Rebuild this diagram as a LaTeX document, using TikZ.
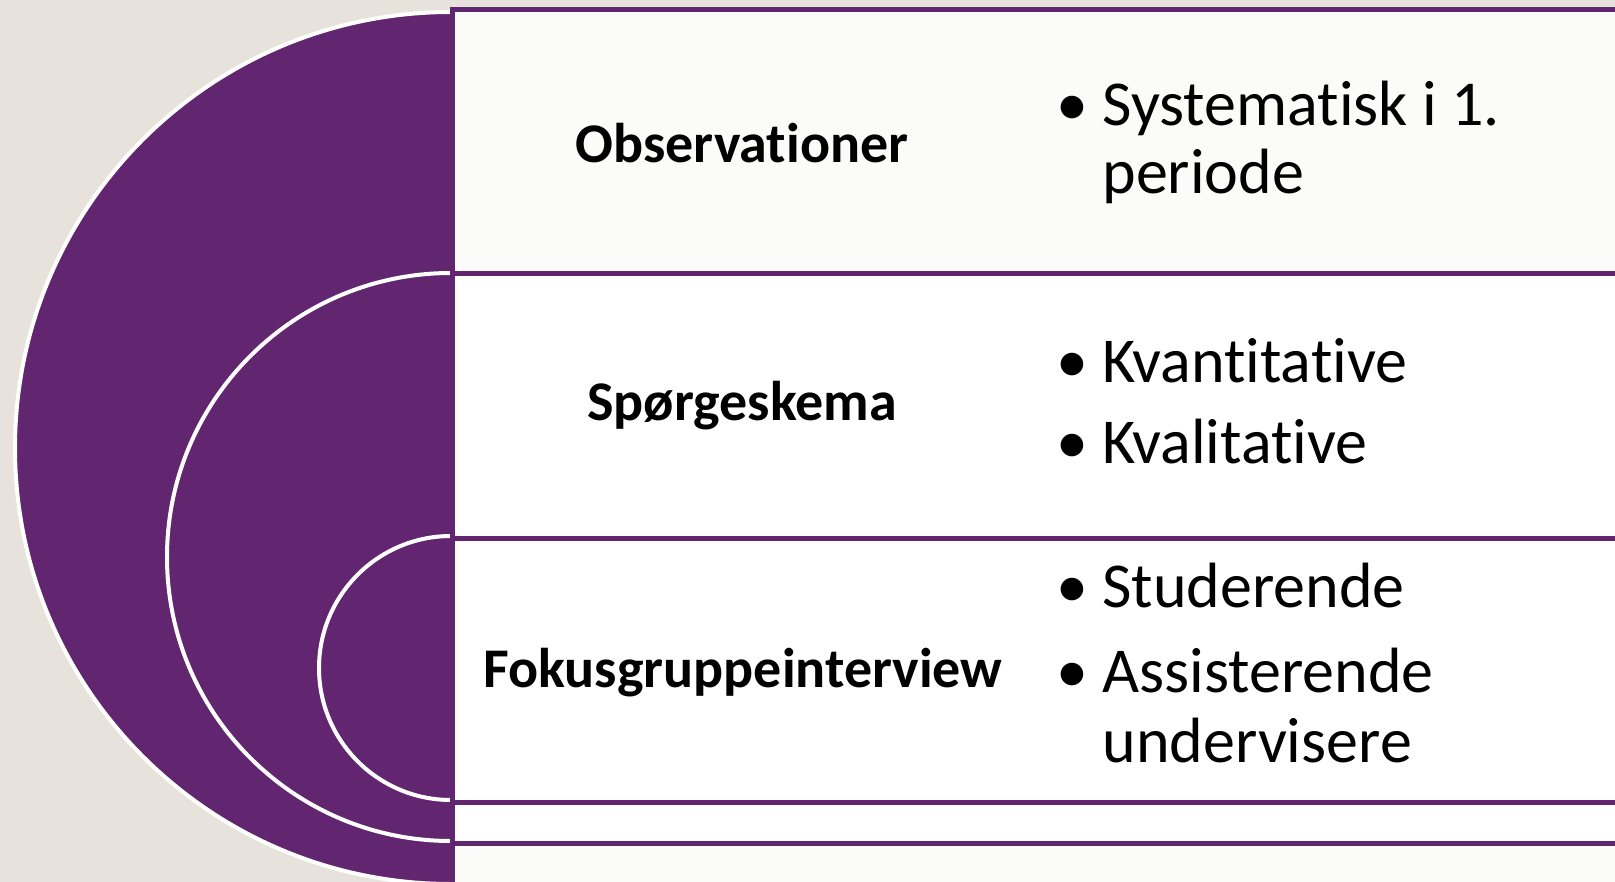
\documentclass[tikz,border=0pt]{standalone}
\usepackage{fontspec}
\setmainfont[Ligatures={NoCommon,NoRare}]{Carlito}
\usetikzlibrary{calc}
\definecolor{plum}{RGB}{98,38,112}
\definecolor{sand}{RGB}{231,227,220}
\definecolor{paper}{RGB}{251,251,249}

\begin{document}
\begin{tikzpicture}[x=0.5pt,y=-0.5pt,
        lbl/.style={font=\fontsize{28}{34}\selectfont\bfseries, anchor=base, inner sep=0pt},
        itm/.style={font=\fontsize{32}{38}\selectfont, anchor=base west, inner sep=0pt},
        half/.style={draw=white, line width=2pt, fill=plum},
        box/.style={draw=plum, line width=2.5pt}]
        \useasboundingbox (0,0) rectangle (1615,882);
        \fill[sand] (0,0) rectangle (1615,882);

        \begin{scope}
            \clip (0,0) rectangle (1615,882);
            % half discs, outer to inner
            \filldraw[half] (451,12) arc[start angle=90, end angle=270, radius=218pt];
            \filldraw[half] (451,273) arc[start angle=90, end angle=270, radius=142pt];
            \filldraw[half] (451,536) arc[start angle=90, end angle=270, radius=66pt];

            % boxes
            \filldraw[box, fill=paper] (452,10) rectangle (1650,900);
            \filldraw[box, fill=white] (452,273) rectangle (1650,843);
            \filldraw[box, fill=white] (452,538) rectangle (1650,802);
        \end{scope}

        \node[lbl] (obs) at (742,163) {Observationer};
        \node[lbl] (spg) at (742,420) {Spørgeskema};
        \node[lbl] (fok) at (743,687) {Fokusgruppeinterview};

        \foreach \y/\name in {126/b1, 382/b2, 463/b3, 607/b4, 692/b5}
            \node[itm] (\name) at (1056,\y) {•};

        \node[itm] (sys) at (1102,126) {Systematisk i 1.};
        \node[itm] (per) at (1102,194) {periode};
        \node[itm] (kvan) at (1102,382) {Kvantitative};
        \node[itm] (kval) at (1102,463) {Kvalitative};
        \node[itm] (stud) at (1102,607) {Studerende};
        \node[itm] (ass) at (1102,692) {Assisterende};
        \node[itm] (und) at (1102,762) {undervisere};
    \end{tikzpicture}
\end{document}
